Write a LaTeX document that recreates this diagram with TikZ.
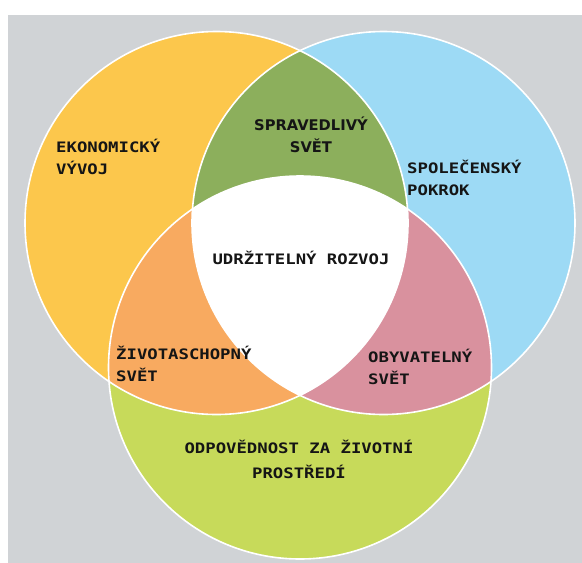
\documentclass[tikz,border=0pt]{standalone}
\usepackage{fontspec}
\newfontfamily\monofont[FakeStretch=1.2]{DejaVu Sans Mono}
\newfontfamily\sansfont{DejaVu Sans}
\usetikzlibrary{positioning}

\definecolor{bggray}{HTML}{D0D3D6}
\definecolor{cyellow}{HTML}{FCC74C}
\definecolor{cblue}{HTML}{9DDAF5}
\definecolor{clime}{HTML}{C7DA5A}
\definecolor{colive}{HTML}{8CAF5C}
\definecolor{corange}{HTML}{F8AA60}
\definecolor{cpink}{HTML}{D9919E}
\definecolor{ctext}{HTML}{151515}
\newcommand\polomer{191.5pt}

\begin{document}
\begin{tikzpicture}[x=1pt, y=-1pt,
  mono/.style={font=\monofont\bfseries\fontsize{14.4}{22}\selectfont, text=ctext, inner sep=0pt},
  sans/.style={font=\sansfont\bfseries\fontsize{14.7}{22}\selectfont, text=ctext, inner sep=0pt},
  ring/.style={draw=white, line width=1.6pt}]
	\useasboundingbox (0,0) rectangle (582,563);
	\fill[white] (0,0) rectangle (582,563);
	\fill[bggray] (8,15) rectangle (582,563);
	
	% středy kruhů
	\coordinate (E) at (216.5,223);
	\coordinate (S) at (383.5,223);
	\coordinate (P) at (300,367.5);
	
	% kruhy
	\fill[cyellow] (E) circle[radius=\polomer];
	\fill[cblue] (S) circle[radius=\polomer];
	\fill[clime] (P) circle[radius=\polomer];
	
	% průniky
	\begin{scope}
		\clip (S) circle[radius=\polomer];
		\fill[cpink] (P) circle[radius=\polomer];
	\end{scope}
	\begin{scope}
		\clip (E) circle[radius=\polomer];
		\fill[colive] (S) circle[radius=\polomer];
		\fill[corange] (P) circle[radius=\polomer];
		\clip (S) circle[radius=\polomer];
		\fill[white] (P) circle[radius=\polomer];
	\end{scope}
	
	% obrysy
	\draw[ring] (E) circle[radius=\polomer];
	\draw[ring] (S) circle[radius=\polomer];
	\draw[ring] (P) circle[radius=\polomer];
	
	% popisky (base = poslední řádek)
	\node[mono, anchor=base west, align=left] (eko) at (56,174.5) {EKONOMICKÝ\\VÝVOJ};
	\node[sans, anchor=base, align=center] (sprav) at (311,152) {SPRAVEDLIVÝ\\SVĚT};
	\node[mono, anchor=base west, align=left] (spol) at (407,195) {SPOLEČENSKÝ\\POKROK};
	\node[mono, anchor=base] (udrz) at (301,264) {UDRŽITELNÝ ROZVOJ};
	\node[mono, anchor=base west, align=left] (zivot) at (116,381) {ŽIVOTASCHOPNÝ\\SVĚT};
	\node[mono, anchor=base west, align=left] (obyv) at (368,384) {OBYVATELNÝ\\SVĚT};
	\node[mono, anchor=base, align=center, font=\monofont\bfseries\fontsize{14.4}{25.5}\selectfont] (odpov) at (299,478.5) {ODPOVĚDNOST ZA ŽIVOTNÍ\\PROSTŘEDÍ};
\end{tikzpicture}
\end{document}
